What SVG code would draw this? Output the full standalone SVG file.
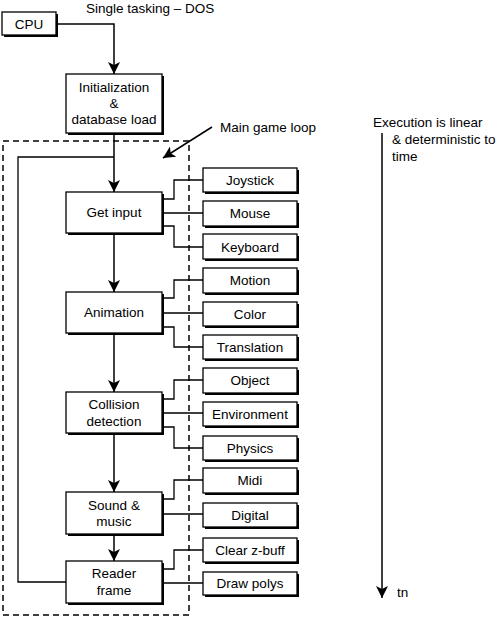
<svg xmlns="http://www.w3.org/2000/svg" width="500" height="617" viewBox="0 0 500 617">
<style>
text{font-family:"Liberation Sans",Arial,sans-serif;font-size:13.5px;fill:#000}
.c{text-anchor:middle}
.box{fill:#fff;stroke:#000;stroke-width:1.3}
.sh{fill:#000}
.ln{fill:none;stroke:#000;stroke-width:1.3}
.ar{fill:none;stroke:#000;stroke-width:1.5;marker-end:url(#ah)}
</style>
<defs>
<marker id="ah" markerUnits="userSpaceOnUse" markerWidth="12" markerHeight="12" viewBox="0 0 12 12" refX="12" refY="6" orient="auto">
<path d="M0,0 L12,6 L0,12 L3,6 Z" fill="#000"/>
</marker>
</defs>
<rect x="3" y="141" width="186" height="474" fill="none" stroke="#000" stroke-width="1.5" stroke-dasharray="6,4"/>
<g id="connectors">
<path class="ar" d="M56,24 H114 V74"/>
<path class="ar" d="M114,133 V192"/>
<path class="ar" d="M114,233 V292"/>
<path class="ar" d="M114,333 V392"/>
<path class="ar" d="M114,433 V492"/>
<path class="ar" d="M114,534 V561"/>
<path class="ln" d="M66,582 H18 V157 H114"/>
<path class="ar" d="M212,127 L163,158"/>
<path class="ar" d="M382,133 V598"/>
<path class="ln" d="M162,199 H174 V180 H203 M162,213 H203 M162,226 H174 V247 H203"/>
<path class="ln" d="M162,298 H174 V280 H203 M162,313 H203 M162,327 H174 V347 H203"/>
<path class="ln" d="M162,399 H174 V380 H203 M162,413 H203 M162,427 H174 V448 H203"/>
<path class="ln" d="M162,499 H174 V480 H203 M162,514 H203"/>
<path class="ln" d="M162,569 H174 V550 H203 M162,583 H203"/>
</g>
<text x="86" y="13">Single tasking – DOS</text>
<text x="220" y="132">Main game loop</text>
<text x="373" y="127">Execution is linear</text>
<text x="392" y="144">&amp; deterministic to</text>
<text x="392" y="161">time</text>
<text x="397" y="597">tn</text>
<g id="cpu"><rect class="sh" x="4" y="14" width="54" height="23"/><rect class="box" x="2" y="12" width="54" height="23"/><text class="c" x="29" y="29">CPU</text></g>
<g id="init"><rect class="sh" x="68" y="76" width="96" height="59"/><rect class="box" x="66" y="74" width="96" height="59"/><text class="c" x="114" y="92">Initialization</text><text class="c" x="114" y="108">&amp;</text><text class="c" x="114" y="124">database load</text></g>
<g id="getinput"><rect class="sh" x="68" y="194" width="96" height="41"/><rect class="box" x="66" y="192" width="96" height="41"/><text class="c" x="114" y="217">Get input</text></g>
<g id="animation"><rect class="sh" x="68" y="294" width="96" height="41"/><rect class="box" x="66" y="292" width="96" height="41"/><text class="c" x="114" y="317">Animation</text></g>
<g id="collision"><rect class="sh" x="68" y="394" width="96" height="41"/><rect class="box" x="66" y="392" width="96" height="41"/><text class="c" x="114" y="409">Collision</text><text class="c" x="114" y="426">detection</text></g>
<g id="sound"><rect class="sh" x="68" y="494" width="96" height="42"/><rect class="box" x="66" y="492" width="96" height="42"/><text class="c" x="114" y="510">Sound &amp;</text><text class="c" x="114" y="526">music</text></g>
<g id="reader"><rect class="sh" x="68" y="563" width="96" height="42"/><rect class="box" x="66" y="561" width="96" height="42"/><text class="c" x="114" y="578">Reader</text><text class="c" x="114" y="595">frame</text></g>
<g id="joystick"><rect class="sh" x="205" y="170" width="94" height="24"/><rect class="box" x="203" y="168" width="94" height="24"/><text class="c" x="250" y="185">Joystick</text></g>
<g id="mouse"><rect class="sh" x="205" y="203" width="94" height="25"/><rect class="box" x="203" y="201" width="94" height="25"/><text class="c" x="250" y="218">Mouse</text></g>
<g id="keyboard"><rect class="sh" x="205" y="236" width="94" height="25"/><rect class="box" x="203" y="234" width="94" height="25"/><text class="c" x="250" y="252">Keyboard</text></g>
<g id="motion"><rect class="sh" x="205" y="270" width="94" height="25"/><rect class="box" x="203" y="268" width="94" height="25"/><text class="c" x="250" y="285">Motion</text></g>
<g id="color"><rect class="sh" x="205" y="304" width="94" height="24"/><rect class="box" x="203" y="302" width="94" height="24"/><text class="c" x="250" y="319">Color</text></g>
<g id="translation"><rect class="sh" x="205" y="337" width="94" height="24"/><rect class="box" x="203" y="335" width="94" height="24"/><text class="c" x="250" y="352">Translation</text></g>
<g id="object"><rect class="sh" x="205" y="370" width="94" height="25"/><rect class="box" x="203" y="368" width="94" height="25"/><text class="c" x="250" y="385">Object</text></g>
<g id="environment"><rect class="sh" x="205" y="404" width="94" height="24"/><rect class="box" x="203" y="402" width="94" height="24"/><text class="c" x="250" y="419">Environment</text></g>
<g id="physics"><rect class="sh" x="205" y="438" width="94" height="24"/><rect class="box" x="203" y="436" width="94" height="24"/><text class="c" x="250" y="453">Physics</text></g>
<g id="midi"><rect class="sh" x="205" y="470" width="94" height="25"/><rect class="box" x="203" y="468" width="94" height="25"/><text class="c" x="250" y="485">Midi</text></g>
<g id="digital"><rect class="sh" x="205" y="505" width="94" height="24"/><rect class="box" x="203" y="503" width="94" height="24"/><text class="c" x="250" y="520">Digital</text></g>
<g id="clearzbuff"><rect class="sh" x="205" y="540" width="94" height="24"/><rect class="box" x="203" y="538" width="94" height="24"/><text class="c" x="250" y="555">Clear z-buff</text></g>
<g id="drawpolys"><rect class="sh" x="205" y="574" width="94" height="23"/><rect class="box" x="203" y="572" width="94" height="23"/><text class="c" x="250" y="588">Draw polys</text></g>
</svg>
